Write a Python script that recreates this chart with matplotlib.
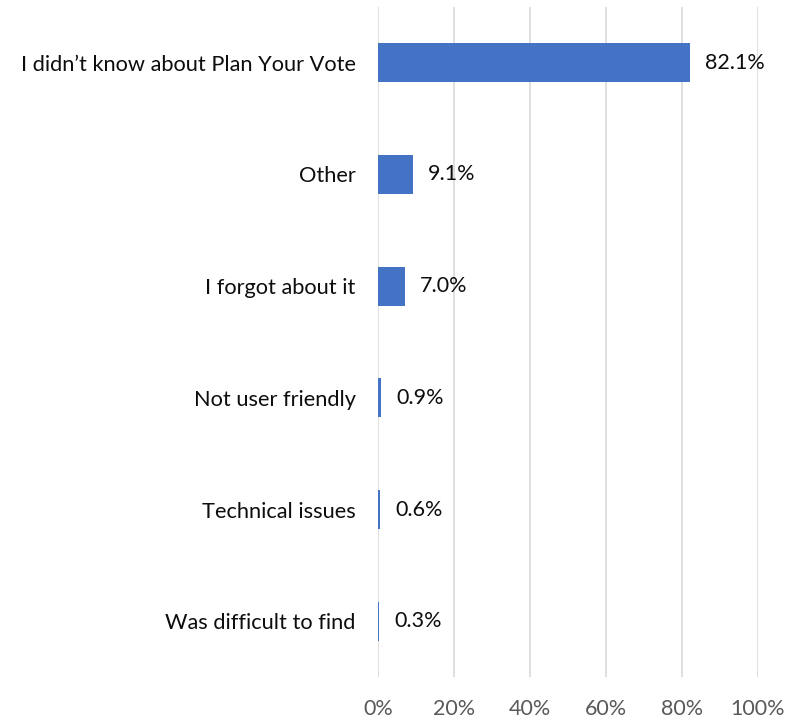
import matplotlib
matplotlib.use("Agg")
import matplotlib.pyplot as plt
from matplotlib.ticker import FuncFormatter

categories = ["I didn\u2019t know about Plan Your Vote", "Other", "I forgot about it",
              "Not user friendly", "Technical issues", "Was difficult to find"]
values = [82.1, 9.1, 7.0, 0.9, 0.6, 0.3]
xticks = [0, 20, 40, 60, 80, 100]

plt.rcParams["font.family"] = ["Lato", "DejaVu Sans"]

fig = plt.figure(figsize=(7.98, 7.2), dpi=100)
ax = fig.add_axes([0.4737, 0.0597, 0.4762, 0.9306])

ypos = list(range(len(categories)))
ax.barh(ypos, values, height=0.35, color="#4472C4", zorder=3)
for y, v in zip(ypos, values):
    ax.annotate(f"{v:.1f}%", (v, y), xytext=(11, 0), textcoords="offset points",
                ha="left", va="center", fontsize=15.5, color="#0d0d0d")

ax.set_xlim(0, 100)
ax.set_ylim(5.5, -0.5)
ax.set_xticks(xticks)
ax.xaxis.set_major_formatter(FuncFormatter(lambda x, _: f"{x:.0f}%"))
ax.set_yticks(ypos)
ax.set_yticklabels(categories)
ax.tick_params(axis="y", length=0, pad=16, labelsize=15.7, labelcolor="#0d0d0d")
ax.tick_params(axis="x", length=0, pad=16, labelsize=15.5, labelcolor="#595959")
ax.grid(axis="x", color="#D9D9D9", lw=1.2, zorder=0)
for s in ax.spines.values():
    s.set_visible(False)

fig.savefig("out.png", dpi=100)
